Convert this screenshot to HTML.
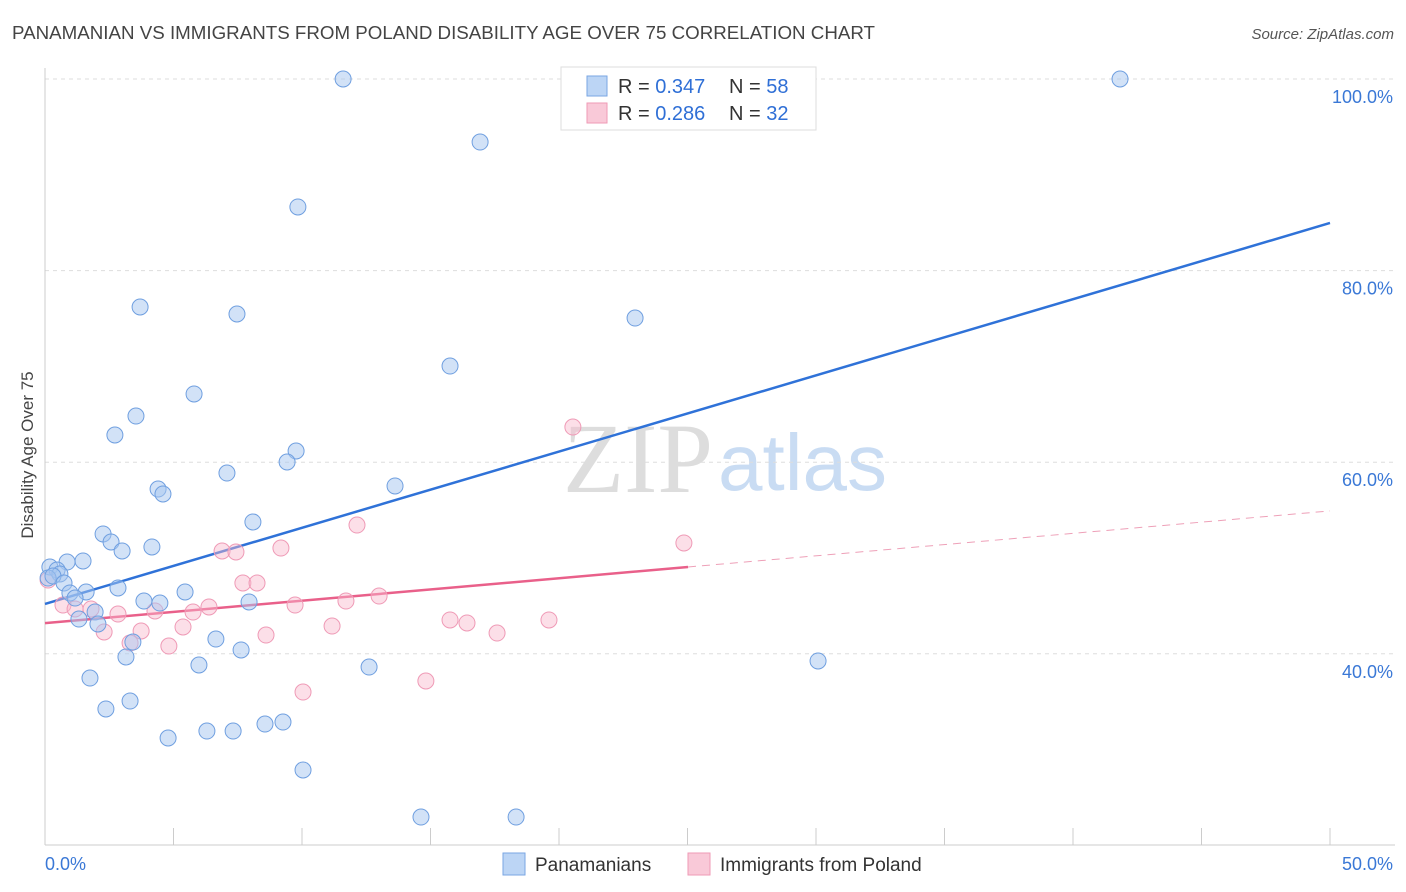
<!DOCTYPE html>
<html><head><meta charset="utf-8"><style>
body{margin:0;background:#fff;font-family:"Liberation Sans",sans-serif;}
svg{display:block}
</style></head><body>
<svg id="chart" width="1406" height="892" xmlns="http://www.w3.org/2000/svg" font-family="Liberation Sans, sans-serif">
<text x="12" y="39" font-size="18" fill="#444" textLength="863" lengthAdjust="spacingAndGlyphs">PANAMANIAN VS IMMIGRANTS FROM POLAND DISABILITY AGE OVER 75 CORRELATION CHART</text>
<text x="1394" y="39" font-size="15" fill="#555" text-anchor="end" font-style="italic">Source: ZipAtlas.com</text>
<text transform="translate(33,455) rotate(-90)" font-size="17" fill="#444" text-anchor="middle">Disability Age Over 75</text>
<g>
<text x="713" y="492" font-size="100" fill="#ddd" font-family="Liberation Serif, serif" text-anchor="end">ZIP</text>
<text x="718" y="490" font-size="80" fill="#c9dcf3">atlas</text>
</g>
<g id="grid"></g>
<g id="axes"></g>
<g id="lines"></g>
<g id="pts"></g>
<g>
<rect x="561" y="67" width="255" height="63" fill="#fff" stroke="#ddd"/>
<rect x="587" y="76" width="20" height="20" fill="#bcd5f5" stroke="#7aa6e3"/>
<text x="618" y="93" font-size="20" fill="#333">R = <tspan fill="#2f6fd6">0.347</tspan></text>
<text x="729" y="93" font-size="20" fill="#333">N = <tspan fill="#2f6fd6">58</tspan></text>
<rect x="587" y="103" width="20" height="20" fill="#f9c9d8" stroke="#ef9ab6"/>
<text x="618" y="120" font-size="20" fill="#333">R = <tspan fill="#2f6fd6">0.286</tspan></text>
<text x="729" y="120" font-size="20" fill="#333">N = <tspan fill="#2f6fd6">32</tspan></text>
</g>
<g>
<rect x="503" y="853" width="22" height="22" fill="#bcd5f5" stroke="#7aa6e3"/>
<text x="535" y="871" font-size="19" fill="#333">Panamanians</text>
<rect x="688" y="853" width="22" height="22" fill="#f9c9d8" stroke="#ef9ab6"/>
<text x="720" y="871" font-size="19" fill="#333">Immigrants from Poland</text>
</g>
</svg>
<script>
const yTicks=[40,60,80,100];
const yTickLabels=["40.0%","60.0%","80.0%","100.0%"];
const xTicks=[0,5,10,15,20,25,30,35,40,45,50];
const blueX=[11.6,41.83,16.93,9.84,3.7,7.47,22.96,15.76,5.8,3.54,2.72,9.77,9.42,7.08,4.4,4.59,13.62,8.09,2.26,2.57,4.16,3.0,1.48,0.86,0.19,0.47,0.58,0.12,0.31,0.74,2.84,5.45,1.6,0.97,1.17,3.85,4.47,7.94,1.95,1.32,2.06,6.65,3.42,7.63,3.15,5.99,12.61,30.08,1.75,2.37,3.31,4.79,6.3,7.32,8.56,9.26,10.04,14.63,18.33];
const blueY=[100,100,93.42,86.64,76.2,75.47,75.05,70.04,67.12,64.82,62.84,61.17,60.02,58.87,57.2,56.68,57.52,53.76,52.51,51.67,51.15,50.73,49.69,49.58,49.06,48.75,48.33,47.91,48.12,47.39,46.87,46.45,46.45,46.35,45.82,45.51,45.3,45.41,44.36,43.63,43.11,41.54,41.23,40.4,39.67,38.83,38.62,39.25,37.47,34.24,35.07,31.21,31.94,31.94,32.67,32.88,27.87,22.96,22.96];
const pinkX=[20.54,12.14,24.86,9.18,6.89,7.43,7.7,8.25,13.0,11.71,6.38,9.73,4.28,0.7,1.79,2.84,5.76,5.37,15.76,16.42,19.61,11.17,8.6,17.59,2.3,3.74,3.31,4.82,10.04,14.82,0.12,1.17];
const pinkY=[63.67,53.44,51.57,51.04,50.73,50.63,47.39,47.39,46.03,45.51,44.89,45.09,44.47,45.09,44.68,44.15,44.36,42.8,43.53,43.22,43.53,42.9,41.96,42.17,42.28,42.38,41.13,40.81,36.01,37.16,47.7,44.68];
const blueFit=[45.2,0.7954];
const pinkFit=[43.2,0.2343];
const pinkSolidEnd=25.02;

const X=v=>45+v*25.7, Y=v=>79+(100-v)*9.58;
const NS="http://www.w3.org/2000/svg";
function mk(tag,attrs,parent){const e=document.createElementNS(NS,tag);for(const k in attrs)e.setAttribute(k,attrs[k]);parent.appendChild(e);return e;}
const grid=document.getElementById('grid'),axes=document.getElementById('axes'),lines=document.getElementById('lines'),pts=document.getElementById('pts');
yTicks.forEach((t,i)=>{
 const l=mk('line',{x1:45,x2:1395,y1:Y(t),y2:Y(t),stroke:'#ddd','stroke-dasharray':'4,4'},grid);
 
 
 const tx=mk('text',{x:1393,y:Y(t)+24,'font-size':18,fill:'#3a78d6','text-anchor':'end'},axes);
 tx.textContent=yTickLabels[i];
 
 
});
const ax=mk('line',{x1:45,x2:45,y1:68,y2:845,stroke:'#ccc'},axes);


const bx=mk('line',{x1:45,x2:1395,y1:845,y2:845,stroke:'#ccc'},axes);


xTicks.forEach(t=>{
 const l=mk('line',{x1:X(t),x2:X(t),y1:828,y2:845,stroke:'#ccc'},axes);
 
 
});
const xl0=mk('text',{x:45,y:870,'font-size':18,fill:'#3a78d6'},axes);xl0.textContent="0.0%";


const xl1=mk('text',{x:1393,y:870,'font-size':18,fill:'#3a78d6','text-anchor':'end'},axes);xl1.textContent="50.0%";



function dots(xs,ys,fill,stroke,name){xs.forEach((x,i)=>{
 const c=mk('circle',{cx:X(x),cy:Y(ys[i]),r:8,fill:fill,stroke:stroke,'stroke-width':1},pts);
 
 
});}
dots(pinkX,pinkY,'rgba(248,185,205,0.45)','#ef9ab6','poland-point');
dots(blueX,blueY,'rgba(165,198,240,0.5)','#6f9fe0','panamanian-point');

const bl=mk('line',{x1:X(0),y1:Y(blueFit[0]),x2:X(50),y2:Y(blueFit[0]+blueFit[1]*50),stroke:'#2f72d8','stroke-width':2.5},lines);


const pl=mk('line',{x1:X(0),y1:Y(pinkFit[0]),x2:X(pinkSolidEnd),y2:Y(pinkFit[0]+pinkFit[1]*pinkSolidEnd),stroke:'#e9608a','stroke-width':2.5},lines);


const pd=mk('line',{x1:X(pinkSolidEnd),y1:Y(pinkFit[0]+pinkFit[1]*pinkSolidEnd),x2:X(50),y2:Y(pinkFit[0]+pinkFit[1]*50),stroke:'#eea0b8','stroke-width':1,'stroke-dasharray':'8,6'},lines);


</script>
</body></html>
